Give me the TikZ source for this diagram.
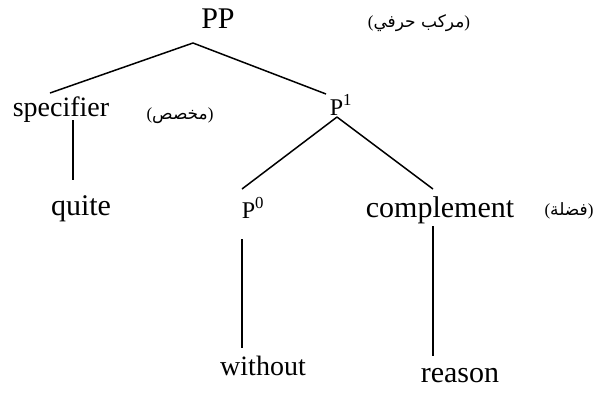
\documentclass[tikz,border=0pt]{standalone}
\usepackage{fontspec}
\setmainfont{Liberation Serif}
\newfontfamily\arabicfont[Script=Arabic]{DejaVu Sans}
\TeXXeTstate=1
\newcommand{\argloss}[1]{\mbox{(}\mbox{\arabicfont\beginR #1\endR}\mbox{)}}
\begin{document}
\begin{tikzpicture}[x=1pt,y=-1pt,
  word/.style={inner sep=0pt,anchor=base,font=\fontsize{30}{32}\selectfont},
  smallword/.style={inner sep=0pt,anchor=base,font=\fontsize{28}{30}\selectfont},
  cat/.style={inner sep=0pt,anchor=base,font=\fontsize{24}{26}\selectfont},
  gloss/.style={inner sep=0pt,anchor=base,font=\fontsize{17}{19}\selectfont},
  branch/.style={line width=1.5pt,black}]
\useasboundingbox (0,0) rectangle (600,392);
% nodes
\node[word] (pp) at (218,28) {PP};
\node[gloss] (ppg) at (419,27) {\argloss{مركب حرفي}};
\node[smallword] (spec) at (61,116) {specifier};
\node[gloss] (specg) at (180,119) {\argloss{مخصص}};
\node[cat] (p1) at (341,115) {P\textsuperscript{1}};
\node[word] (quite) at (81,215) {quite};
\node[cat] (p0) at (253,218) {P\textsuperscript{0}};
\node[word] (comp) at (440,217) {complement};
\node[gloss] (compg) at (569,215) {\argloss{فضلة}};
\node[smallword] (without) at (263,375) {without};
\node[word] (reason) at (460,382) {reason};
% connector end points
\coordinate (ppb) at (193,43);
\coordinate (spect) at (50,93);
\coordinate (p1t) at (326,94);
\coordinate (p1b) at (337,117);
\coordinate (p0t) at (242,189);
\coordinate (compt) at (433,189);
\coordinate (specb) at (73,120);
\coordinate (quitet) at (73,180);
\coordinate (p0b) at (242,239);
\coordinate (withoutt) at (242,348);
\coordinate (compb) at (433,226);
\coordinate (reasont) at (433,356);
% connectors
\draw[branch] (ppb) -- (spect);
\draw[branch] (ppb) -- (p1t);
\draw[branch] (p1b) -- (p0t);
\draw[branch] (p1b) -- (compt);
\draw[branch] (specb) -- (quitet);
\draw[branch] (p0b) -- (withoutt);
\draw[branch] (compb) -- (reasont);
\end{tikzpicture}
\end{document}
